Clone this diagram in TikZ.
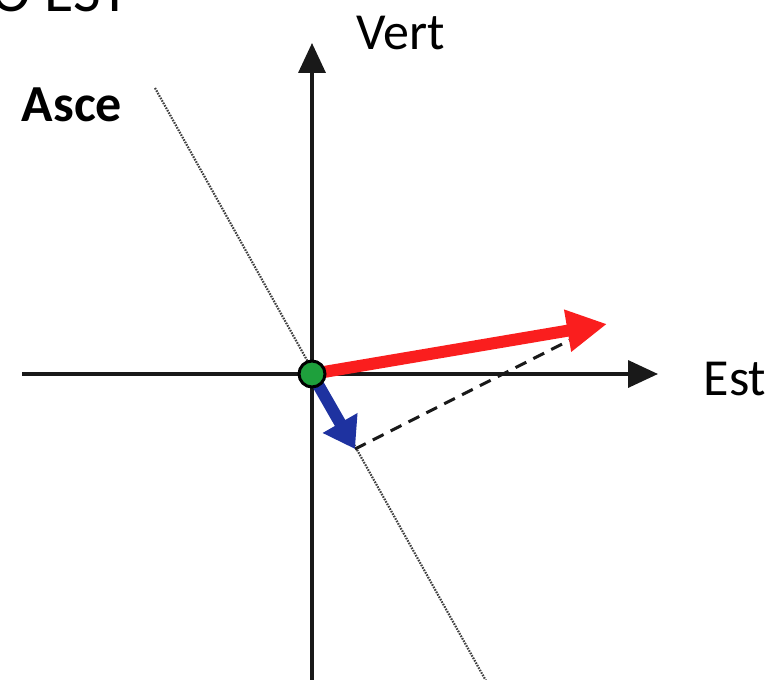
\documentclass[tikz,border=0pt]{standalone}
\usepackage{fontspec}
\setmainfont{Carlito}
\usetikzlibrary{arrows.meta}
\definecolor{vecred}{RGB}{250,30,30}
\definecolor{vecblue}{RGB}{30,50,160}
\definecolor{ptgreen}{RGB}{30,160,60}
\begin{document}
\begin{tikzpicture}[x=1pt,y=-1pt,
  lbl/.style={font=\fontsize{52}{60}\selectfont, inner sep=0pt},
  axis/.style={line width=3.5pt, black!90, -{Triangle[length=30pt,width=27pt]}},
  asceline/.style={line width=2.2pt, dash pattern=on 1.6pt off 1.2pt, black!75},
  redvec/.style={draw=vecred, line width=12pt, -{Triangle[length=40pt,width=40pt]}, fill=vecred},
  bluevec/.style={draw=vecblue, line width=12pt, -{Triangle[length=30pt,width=38pt]}, fill=vecblue},
  dashline/.style={line width=3pt, black!90, dash pattern=on 12pt off 8pt}]
\useasboundingbox (0,0) rectangle (775,679);
\clip (0,0) rectangle (775,679);
\coordinate (O) at (312,374);
\coordinate (xl) at (22,374);
\coordinate (xr) at (658,374);
\coordinate (yb) at (312,690);
\coordinate (yt) at (312,43);
\draw[axis] (xl) -- (xr);
\draw[axis] (yb) -- (yt);
\coordinate (at) at (155,88);
\coordinate (ab) at (490,688);
\draw[asceline] (at) -- (ab);
\coordinate (B) at (355,449);
\coordinate (R) at (607,324);
\coordinate (D) at (572,339);
\draw[dashline] (B) -- (D);
\draw[redvec] (O) -- (R);
\draw[bluevec] (O) -- (B);
\node[circle, fill=ptgreen, draw=black, line width=3pt, minimum size=26pt, inner sep=0pt] (P) at (O) {};
\node[lbl, anchor=base] (vert) at (401,50) {Vert};
\node[lbl, anchor=base] (est) at (735,395) {Est};
\node[lbl, anchor=base, font=\fontsize{52}{60}\selectfont\bfseries] (asce) at (72,122) {Asce};
\node[inner sep=0pt, anchor=base east, font=\fontsize{60}{70}\selectfont] (title) at (130,12) {O EST};
\end{tikzpicture}
\end{document}
